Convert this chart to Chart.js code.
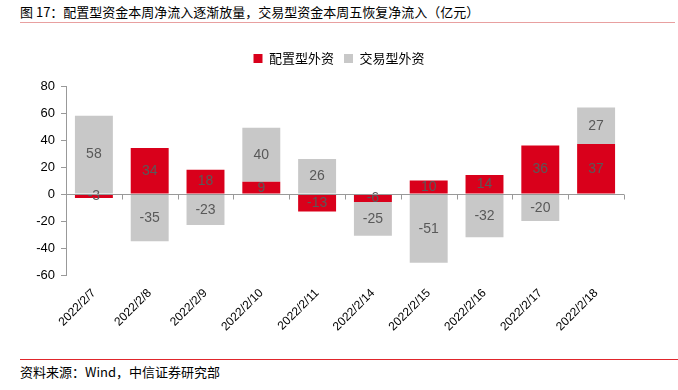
<!DOCTYPE html>
<html>
<head>
<meta charset="utf-8">
<script src="https://cdn.jsdelivr.net/npm/chart.js@4"></script>
<style>
  body { margin: 0; width: 678px; height: 390px; position: relative; background: #fff; overflow: hidden; }
  #title { position: absolute; left: 20px; top: 3px; width: 655px; font: 13px "Noto Sans CJK SC"; color: #000;
           border-bottom: 1px solid #e8a0a0; padding-bottom: 2px; line-height: 17px; }
  #foot { position: absolute; left: 20px; top: 359px; width: 658px; border-top: 1px solid #e0262c;
          font: 13px "Noto Sans CJK SC"; color: #000; padding-top: 3px; line-height: 17px; }
  #wrap { position: absolute; left: 0; top: 30px; width: 678px; height: 325px; }
</style>
</head>
<body>
<div id="title">图 17：配置型资金本周净流入逐渐放量，交易型资金本周五恢复净流入（亿元）</div>
<div id="wrap"><canvas id="myChart"></canvas></div>
<div id="foot">资料来源：Wind，中信证券研究部</div>
<script>
const labels = ["2022/2/7", "2022/2/8", "2022/2/9", "2022/2/10", "2022/2/11", "2022/2/14", "2022/2/15", "2022/2/16", "2022/2/17", "2022/2/18"];
const peizhi = [-3, 34, 18, 9, -13, -6, 10, 14, 36, 37];
const jiaoyi = [58, -35, -23, 40, 26, -25, -51, -32, -20, 27];
const yTicks = [-60, -40, -20, 0, 20, 40, 60, 80];

// labels in the middle of each bar
const barLabels = {
  id: "barLabels",
  afterDatasetsDraw(chart) {
    const ctx = chart.ctx;
    ctx.save();
    ctx.font = "14px 'Liberation Sans'";
    ctx.fillStyle = "#595959";
    ctx.textAlign = "center";
    ctx.textBaseline = "middle";
    chart.data.datasets.forEach((ds, i) => {
      chart.getDatasetMeta(i).data.forEach((bar, j) => {
        const p = bar.getProps(["x", "y", "base"], true);
        ctx.fillText(ds.data[j], p.x, (p.y + p.base) / 2);
      });
    });
    ctx.restore();
  },
};

// horizontal axis line at zero with category ticks
const zeroAxis = {
  id: "zeroAxis",
  afterDatasetsDraw(chart) {
    const ctx = chart.ctx;
    const x = chart.scales.x;
    const y0 = Math.round(chart.scales.y.getPixelForValue(0)) + 0.5;
    const step = x.width / labels.length;
    ctx.save();
    ctx.strokeStyle = "#999";
    ctx.lineWidth = 1;
    ctx.beginPath();
    ctx.moveTo(x.left, y0);
    ctx.lineTo(x.right, y0);
    for (let i = 0; i <= labels.length; i++) {
      const px = Math.round(x.left + i * step) + 0.5;
      ctx.moveTo(px, y0);
      ctx.lineTo(px, y0 + 5);
    }
    ctx.stroke();
    ctx.restore();
  },
};

// legend: a bit more space below, centred on the whole page
const legendTweak = {
  id: "legendTweak",
  afterInit(chart) {
    const lg = chart.legend;
    const fit = lg.fit;
    lg.fit = function () {
      fit.call(this);
      this.height += 11;
    };
  },
  afterLayout(chart) {
    chart.legend.left += 27;
    chart.legend.right += 27;
  },
};

const data = {
  labels: labels,
  datasets: [
    {
      label: "配置型外资",
      data: peizhi,
      backgroundColor: "#d9001b",
      barPercentage: 0.68,
      categoryPercentage: 1,
    },
    {
      label: "交易型外资",
      data: jiaoyi,
      backgroundColor: "#c8c8c8",
      barPercentage: 0.68,
      categoryPercentage: 1,
    },
  ],
};

const config = {
  type: "bar",
  data,
  options: {
    responsive: true,
    maintainAspectRatio: false,
    animation: false,
    layout: { padding: { left: 0, right: 54, top: 12, bottom: 0 } },
    plugins: {
      legend: {
        position: "top",
        labels: {
          boxWidth: 9,
          boxHeight: 9,
          padding: 10,
          color: "#000",
          font: { size: 13, family: "Noto Sans CJK SC" },
        },
      },
      tooltip: { enabled: false },
    },
    scales: {
      x: {
        stacked: true,
        grid: { display: false },
        border: { display: false },
        ticks: {
          color: "#000",
          maxRotation: 45,
          minRotation: 45,
          font: { size: 12, family: "Liberation Sans" },
        },
        afterFit: (s) => { s.height = 80; },
      },
      y: {
        stacked: true,
        min: -60,
        max: 80,
        afterBuildTicks: (s) => { s.ticks = yTicks.map((v) => ({ value: v })); },
        grid: { drawOnChartArea: false, tickLength: 5, color: "#999" },
        border: { color: "#999" },
        ticks: {
          color: "#000",
          padding: 6,
          font: { size: 13, family: "Liberation Sans" },
        },
        afterFit: (s) => { s.width = 66; },
      },
    },
  },
  plugins: [barLabels, zeroAxis, legendTweak],
};

const myChart = new Chart(document.getElementById("myChart"), config);
</script>
</body>
</html>
